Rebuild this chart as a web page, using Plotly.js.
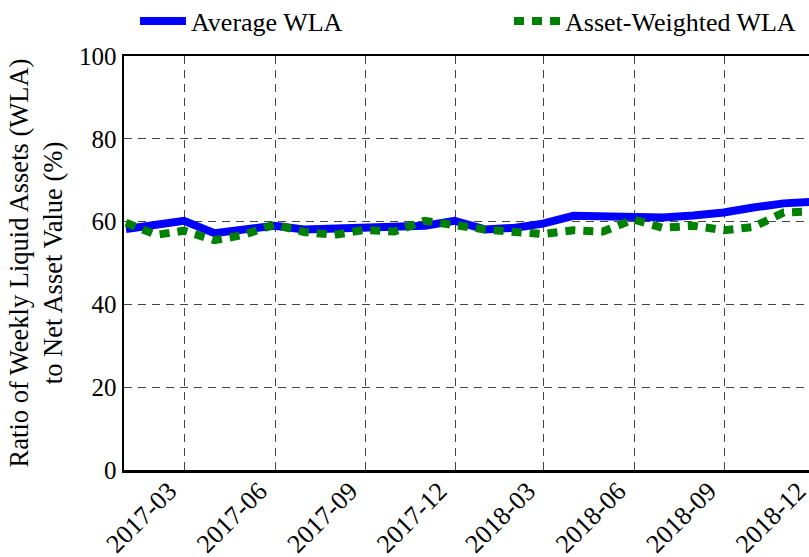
<!DOCTYPE html>
<html>
<head>
<meta charset="utf-8">
<script src="https://cdn.plot.ly/plotly-3.0.1.min.js"></script>
<style>
html,body{margin:0;padding:0;overflow:hidden;background:#fff;}
#chart{width:845px;height:557px;}
</style>
</head>
<body>
<div id="chart"></div>
<script>
const dates = ['2016-12-31','2017-01-31','2017-02-28','2017-03-31','2017-04-30','2017-05-31','2017-06-30','2017-07-31','2017-08-31','2017-09-30','2017-10-31','2017-11-30','2017-12-31','2018-01-31','2018-02-28','2018-03-31','2018-04-30','2018-05-31','2018-06-30','2018-07-31','2018-08-31','2018-09-30','2018-10-31','2018-11-30'];
const averageWLA = [58.2,59.0,60.2,57.2,58.0,59.0,58.1,58.4,58.6,58.8,59.0,60.2,58.1,58.5,59.5,61.4,61.2,60.9,61.0,61.5,62.2,63.4,64.4,64.8];
const assetWeightedWLA = [59.7,56.8,57.8,55.5,56.8,59.3,57.5,56.8,58.0,57.6,60.2,59.0,58.1,57.5,57.0,57.9,57.6,60.5,58.5,59.0,57.9,58.7,62.2,62.5];
const seriesNames = ['Average WLA','Asset-Weighted WLA'];
const yTicks = [0,20,40,60,80,100];

const fam = 'Liberation Serif, Times New Roman, DejaVu Serif, serif';
const W = 845, H = 557;

const traces = [
  {x: dates, y: averageWLA, name: seriesNames[0], type: 'scatter', mode: 'lines',
   line: {color: '#0000ff', width: 8}, legend: 'legend'},
  {x: dates, y: assetWeightedWLA, name: seriesNames[1], type: 'scatter', mode: 'lines',
   line: {color: '#008000', width: 8, dash: '10px,8px'}, legend: 'legend2'}
];

const legendBase = {orientation: 'h', xref: 'container', yref: 'container',
  xanchor: 'left', yanchor: 'middle', y: 1 - 21 / H, itemwidth: 46,
  font: {size: 26, family: fam, color: '#000'}, bgcolor: 'rgba(0,0,0,0)'};

const layout = {
  width: W, height: H,
  margin: {l: 124, r: 12, t: 56, b: 87, autoexpand: false},
  paper_bgcolor: '#fff', plot_bgcolor: '#fff',
  font: {family: fam, size: 24, color: '#000'},
  showlegend: true,
  legend: Object.assign({}, legendBase, {x: 135 / W}),
  legend2: Object.assign({}, legendBase, {x: 509 / W}),
  xaxis: {
    type: 'date', range: ['2016-12-29', '2018-12-20'],
    tick0: '2017-03-01', dtick: 'M3', tickformat: '%Y-%m', tickangle: -45,
    tickfont: {size: 26, family: fam, color: '#000'}, ticklabelshift: -16, ticklabelstandoff: -7,
    showline: true, linewidth: 2.5, linecolor: '#000', mirror: true,
    showgrid: true, gridcolor: '#444', gridwidth: 1, griddash: '8px,6px',
    ticks: '', zeroline: false
  },
  yaxis: {
    range: [0, 100], tickvals: yTicks, ticktext: yTicks.map(String),
    tickfont: {size: 25, family: fam, color: '#000'},
    showline: true, linewidth: 2.5, linecolor: '#000',
    showgrid: true, gridcolor: '#444', gridwidth: 1, griddash: '8px,6px',
    ticks: '', zeroline: false,
    title: {text: 'Ratio of Weekly Liquid Assets (WLA)<br>to Net Asset Value (%)',
            font: {size: 26.5, family: fam, color: '#000'}, standoff: 9}
  }
};

Plotly.newPlot('chart', traces, layout, {displayModeBar: false, staticPlot: true});
</script>
</body>
</html>
